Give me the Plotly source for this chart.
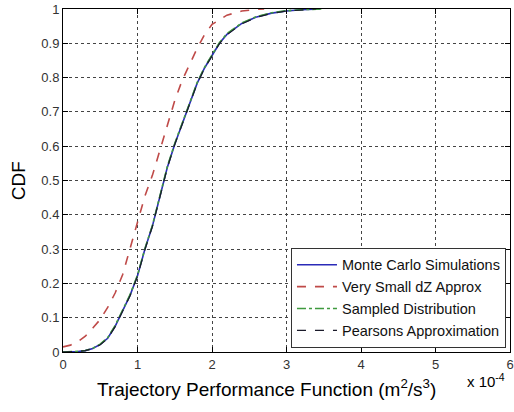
import plotly.graph_objects as go

# x values in units of 1e-4 m^2/s^3
mc_x = [0, 0.1, 0.2, 0.3, 0.4, 0.5, 0.6, 0.7, 0.8, 0.9, 1.0, 1.1, 1.2, 1.3, 1.4, 1.5,
        1.6, 1.7, 1.8, 1.9, 2.0, 2.1, 2.2, 2.4, 2.6, 2.8, 3.0, 3.2, 3.45]
mc_y = [0.0, 0.0004, 0.0015, 0.004, 0.01, 0.022, 0.04, 0.075, 0.118, 0.165, 0.222, 0.3,
        0.367, 0.453, 0.538, 0.606, 0.665, 0.724, 0.783, 0.828, 0.864, 0.9, 0.926, 0.958,
        0.977, 0.988, 0.994, 0.998, 1.0]

vs_x = [0, 0.1, 0.2, 0.3, 0.4, 0.5, 0.6, 0.7, 0.8, 0.9, 1.0, 1.1, 1.2, 1.3, 1.4, 1.5,
        1.6, 1.7, 1.8, 1.9, 2.0, 2.2, 2.4, 2.6, 2.7]
vs_y = [0.015, 0.02, 0.03, 0.046, 0.07, 0.095, 0.13, 0.172, 0.225, 0.3, 0.375, 0.455,
        0.515, 0.59, 0.665, 0.733, 0.792, 0.84, 0.885, 0.925, 0.955, 0.982, 0.994, 0.999, 1.0]

sd_x = [0, 0.1, 0.2, 0.3, 0.4, 0.5, 0.6, 0.7, 0.8, 0.9, 1.0, 1.1, 1.2, 1.3, 1.4, 1.5,
        1.6, 1.7, 1.8, 1.9, 2.0, 2.1, 2.2, 2.4, 2.6, 2.8, 3.0, 3.2, 3.5]
sd_y = [0.0, 0.0005, 0.0017, 0.0045, 0.011, 0.023, 0.042, 0.077, 0.12, 0.167, 0.224, 0.302,
        0.369, 0.455, 0.54, 0.608, 0.667, 0.726, 0.785, 0.83, 0.866, 0.902, 0.928, 0.959,
        0.978, 0.989, 0.995, 0.998, 1.0]

pa_x = [0, 0.1, 0.2, 0.3, 0.4, 0.5, 0.6, 0.7, 0.8, 0.9, 1.0, 1.1, 1.2, 1.3, 1.4, 1.5,
        1.6, 1.7, 1.8, 1.9, 2.0, 2.1, 2.2, 2.4, 2.6, 2.8, 3.0, 3.2, 3.4]
pa_y = [0.0, 0.0004, 0.0014, 0.004, 0.01, 0.021, 0.039, 0.074, 0.117, 0.164, 0.221, 0.299,
        0.366, 0.452, 0.537, 0.605, 0.664, 0.723, 0.782, 0.827, 0.863, 0.899, 0.925, 0.957,
        0.976, 0.987, 0.994, 0.998, 1.0]

names = ["Monte Carlo Simulations", "Very Small dZ Approx", "Sampled Distribution",
         "Pearsons Approximation"]

x_ticks = [0, 1, 2, 3, 4, 5, 6]
y_ticks = [0, 0.1, 0.2, 0.3, 0.4, 0.5, 0.6, 0.7, 0.8, 0.9, 1]
y_tick_text = ["0", "0.1", "0.2", "0.3", "0.4", "0.5", "0.6", "0.7", "0.8", "0.9", "1"]

fig = go.Figure()
fig.add_trace(go.Scatter(x=mc_x, y=mc_y, mode="lines", name=names[0],
                         line=dict(color="#2b2bb8", width=1.6)))
fig.add_trace(go.Scatter(x=vs_x, y=vs_y, mode="lines", name=names[1],
                         line=dict(color="#bf4a48", width=1.6, dash="dash")))
fig.add_trace(go.Scatter(x=sd_x, y=sd_y, mode="lines", name=names[2],
                         line=dict(color="#3f9a3f", width=1.6, dash="dashdot")))
fig.add_trace(go.Scatter(x=pa_x, y=pa_y, mode="lines", name=names[3],
                         line=dict(color="#1a1a2a", width=1.2, dash="dash")))

font_family = "Liberation Sans, Arial, sans-serif"
axis_common = dict(
    showline=True, linecolor="black", linewidth=1, mirror="ticks",
    ticks="inside", ticklen=5, tickcolor="black",
    showgrid=True, gridcolor="#444444", griddash="dot", gridwidth=1,
    zeroline=False, ticklabeloverflow="allow",
    tickfont=dict(family=font_family, size=13, color="#333333"),
)

fig.update_xaxes(range=[0, 6], tickvals=x_ticks, ticktext=[str(t) for t in x_ticks],
                 **axis_common)
fig.update_yaxes(range=[0, 1], tickvals=y_ticks, ticktext=y_tick_text, **axis_common)

fig.update_layout(
    width=514, height=412,
    margin=dict(l=63, r=4, t=9, b=60, autoexpand=False),
    paper_bgcolor="white", plot_bgcolor="white",
    font=dict(family=font_family, color="black"),
    legend=dict(x=0.991, y=0.012, xanchor="right", yanchor="bottom",
                bgcolor="white", bordercolor="#333333", borderwidth=1,
                font=dict(family=font_family, size=14.5, color="#111111"),
                tracegroupgap=0, itemwidth=40),
    annotations=[
        dict(text="Trajectory Performance Function (m<sup>2</sup>/s<sup>3</sup>)",
             xref="paper", yref="paper", x=0.456, y=-0.105,
             xanchor="center", yanchor="middle", showarrow=False,
             font=dict(family=font_family, size=19, color="black")),
        dict(text="x 10<sup>-4</sup>", xref="paper", yref="paper", x=0.947, y=-0.082,
             xanchor="center", yanchor="middle", showarrow=False,
             font=dict(family=font_family, size=15, color="black")),
        dict(text="CDF", xref="paper", yref="paper", x=-0.1007, y=0.501,
             xanchor="center", yanchor="middle", showarrow=False, textangle=-90,
             font=dict(family=font_family, size=19, color="black")),
    ],
)

fig.write_html("out.html", config={"displayModeBar": False},
               post_script="document.body.style.margin='0';document.body.style.overflow='hidden';")
